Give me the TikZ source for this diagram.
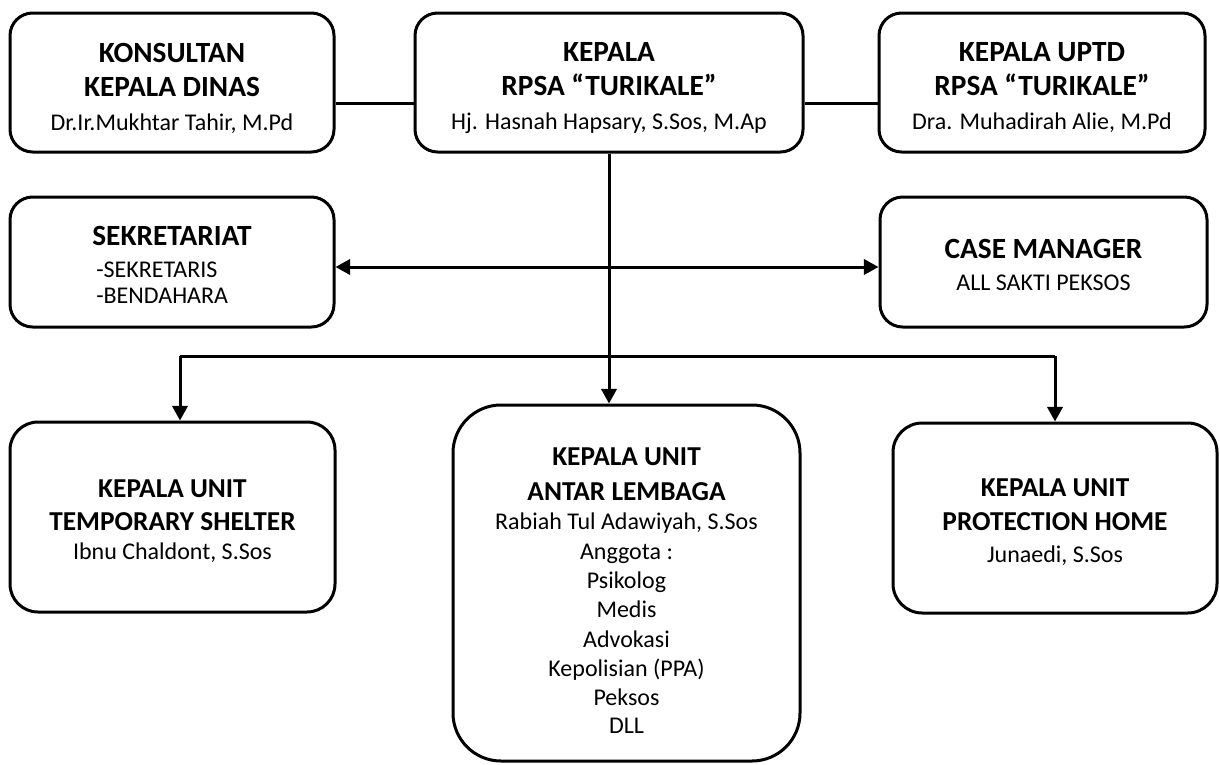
\documentclass[tikz,border=0pt]{standalone}
\usepackage{fontspec}
\setmainfont{Carlito}
\usetikzlibrary{arrows.meta}
\newcommand\titA[1]{{\fontsize{22}{22}\selectfont\bfseries #1}}
\newcommand\titB[1]{{\fontsize{20.5}{22}\selectfont\bfseries #1}}
\begin{document}
\begin{tikzpicture}[x=0.75pt,y=-0.75pt,
  box/.style={draw, line width=2.25pt, rounded corners=17pt, inner sep=0pt},
  txt/.style={align=center, inner sep=0pt, font=\fontsize{18}{22}\selectfont},
  conn/.style={line width=2.25pt},
  arr/.style={line width=2.25pt, -{Triangle[length=11pt,width=11.5pt]}},
  darr/.style={line width=2.25pt, {Triangle[length=11pt,width=11.5pt]}-{Triangle[length=11pt,width=11.5pt]}}]
\useasboundingbox (0,0) rectangle (1220,764);

% boxes
\node[box, minimum width=243pt, minimum height=104.25pt] (kons) at (172,82.5) {};
\node[box, minimum width=291pt, minimum height=104.25pt] (kep) at (609,82.5) {};
\node[box, minimum width=244.5pt, minimum height=104.25pt] (uptd) at (1042,82.5) {};
\node[box, minimum width=243pt, minimum height=97.5pt] (sek) at (172,262) {};
\node[box, minimum width=245.25pt, minimum height=97.5pt] (case) at (1043.5,262) {};
\node[box, rounded corners=21pt, minimum width=243.75pt, minimum height=142.5pt] (temp) at (172.5,517) {};
\node[box, rounded corners=36pt, minimum width=260.25pt, minimum height=267pt] (antar) at (626.5,583) {};
\node[box, rounded corners=22pt, minimum width=243pt, minimum height=142.5pt] (prot) at (1055,518) {};

% texts
\node[txt] (kons-t) at (172,88)
  {\titA{KONSULTAN}\\[3.5pt] \titA{KEPALA DINAS}\\[3.5pt] Dr.Ir.Mukhtar Tahir, M.Pd};
\node[txt] (kep-t) at (609,88)
  {\titA{KEPALA}\\[3.5pt] \titA{RPSA “TURIKALE”}\\[3.5pt] Hj. Hasnah Hapsary, S.Sos, M.Ap};
\node[txt] (uptd-t) at (1042,88)
  {\titA{KEPALA UPTD}\\[3.5pt] \titA{RPSA “TURIKALE”}\\[3.5pt] Dra. Muhadirah Alie, M.Pd};
\node[txt, align=left] (sek-t) at (172,265)
  {\titA{SEKRETARIAT}\\[2.25pt] \hspace*{3pt}-SEKRETARIS\\[-2.5pt] \hspace*{3pt}-BENDAHARA};
\node[txt] (case-t) at (1043.5,264.5)
  {\titA{CASE MANAGER}\\[2pt] ALL SAKTI PEKSOS};
\node[txt] (temp-t) at (172.5,521)
  {\titB{KEPALA UNIT}\\[2.5pt] \titB{TEMPORARY SHELTER}\\ Ibnu Chaldont, S.Sos};
\node[txt] (antar-t) at (626.5,591)
  {\titB{KEPALA UNIT}\\[4pt] \titB{ANTAR LEMBAGA}\\ Rabiah Tul Adawiyah, S.Sos\\ Anggota :\\ Psikolog\\ Medis\\ Advokasi\\ Kepolisian (PPA)\\ Peksos\\[-1pt] DLL};
\node[txt] (prot-t) at (1055,522)
  {\titB{KEPALA UNIT}\\[4pt] \titB{PROTECTION HOME}\\[2pt] Junaedi, S.Sos};

% connectors
\coordinate (ytop) at (0,103);
\coordinate (ymid) at (0,267);
\coordinate (bl) at (180,356);
\coordinate (br) at (1055,356);

\draw[conn] (kons.east |- ytop) -- (kep.west |- ytop);
\draw[conn] (kep.east |- ytop) -- (uptd.west |- ytop);
\draw[arr] (kep.south) -- (kep.south |- antar.north);
\draw[darr] (sek.east |- ymid) -- (case.west |- ymid);
\draw[conn] (bl) -- (br);
\draw[arr] (bl) -- (bl |- temp.north);
\draw[arr] (br) -- (br |- prot.north);
\end{tikzpicture}
\end{document}
